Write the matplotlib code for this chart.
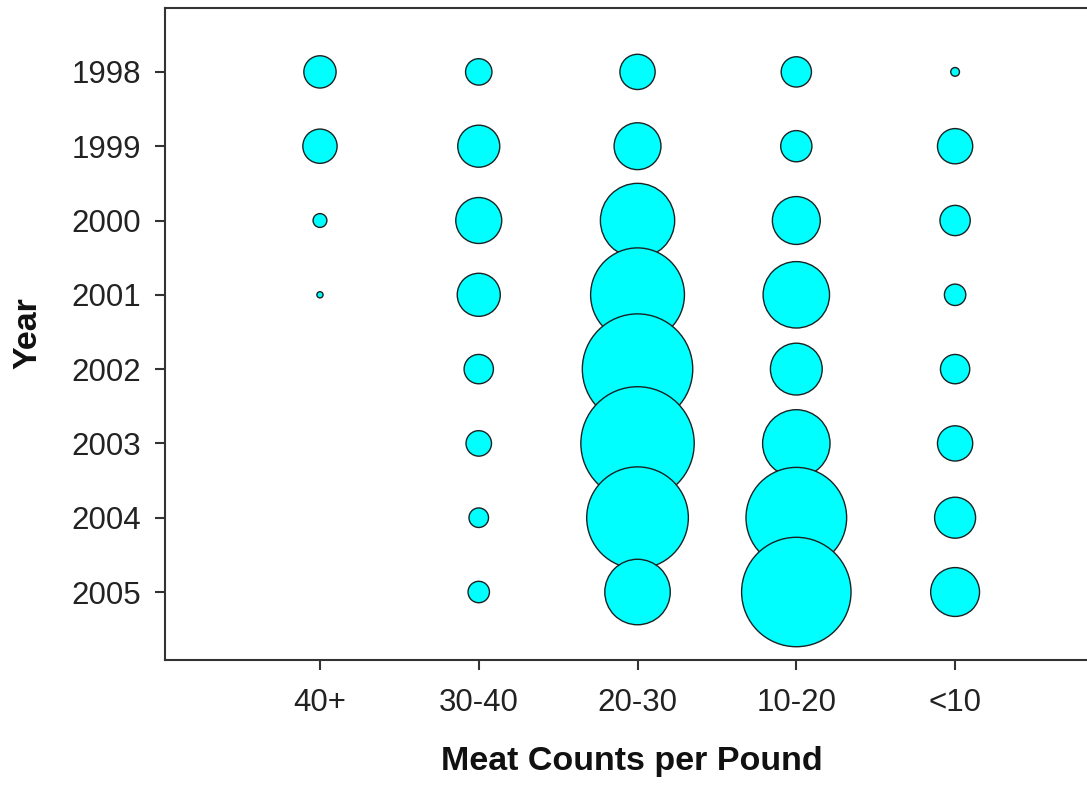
import matplotlib
matplotlib.use("Agg")
import matplotlib.pyplot as plt
import numpy as np

# Data
categories = ["40+", "30-40", "20-30", "10-20", "<10"]
years = ["1998", "1999", "2000", "2001", "2002", "2003", "2004", "2005"]
# relative bubble values (area-proportional), one list per category, by year
v_40plus = [10.9, 12.3, 2.0, 0.4, 0, 0, 0, 0]
v_30_40 = [7.3, 18.5, 22.1, 19.4, 9.0, 6.8, 4.0, 4.8]
v_20_30 = [13.0, 23.0, 57.8, 92.2, 127.7, 134.6, 108.2, 44.9]
v_10_20 = [9.6, 10.2, 24.0, 46.2, 28.1, 47.6, 106.1, 125.4]
v_lt10 = [0.8, 13.0, 9.6, 4.8, 9.0, 13.0, 17.6, 25.0]
series = [v_40plus, v_30_40, v_20_30, v_10_20, v_lt10]

plt.rcParams['font.family'] = ['Liberation Sans', 'DejaVu Sans']

W, H = 1087, 785
fig = plt.figure(figsize=(W / 100, H / 100), dpi=100)
left_px, right_px, top_px, bottom_px = 165, 1098, 8, 660
ax = fig.add_axes([left_px / W, 1 - bottom_px / H,
                   (right_px - left_px) / W, (bottom_px - top_px) / H])

# build points ordered by year so later years draw on top
xs, ys, vs = [], [], []
for yi in range(len(years)):
    for ci in range(len(categories)):
        v = series[ci][yi]
        if v > 0:
            xs.append(ci + 1)
            ys.append(yi)
            vs.append(v)
vs = np.array(vs)
ax.scatter(xs, ys, s=vs * 49.5, c="#00FFFF", edgecolors="#1a2222",
           linewidths=1.0, zorder=3)

ax.set_xlim(0.024, 5.90)
ax.set_ylim(7.915, -0.86)
ax.set_xticks(range(1, len(categories) + 1))
ax.set_xticklabels(categories)
ax.set_yticks(range(len(years)))
ax.set_yticklabels(years)

for s in ["left", "bottom", "top"]:
    ax.spines[s].set_linewidth(1.5)
    ax.spines[s].set_color("#333333")
ax.spines["right"].set_visible(False)

ax.tick_params(axis="both", direction="out", length=7, width=1.5,
               color="#333333", labelsize=22.5, labelcolor="#222222")
ax.tick_params(axis="y", pad=10)
ax.tick_params(axis="x", pad=13)

ax.set_xlabel("Meat Counts per Pound", fontsize=24.5, fontweight="bold",
              color="#111111")
ax.set_ylabel("Year", fontsize=24.5, fontweight="bold", color="#111111")
ax.xaxis.label.set_va("center")
ax.yaxis.label.set_va("center")
ax.xaxis.set_label_coords(0.5, -0.156)
ax.yaxis.set_label_coords(-0.147, 0.5015)

fig.savefig("out.png", dpi=100)
